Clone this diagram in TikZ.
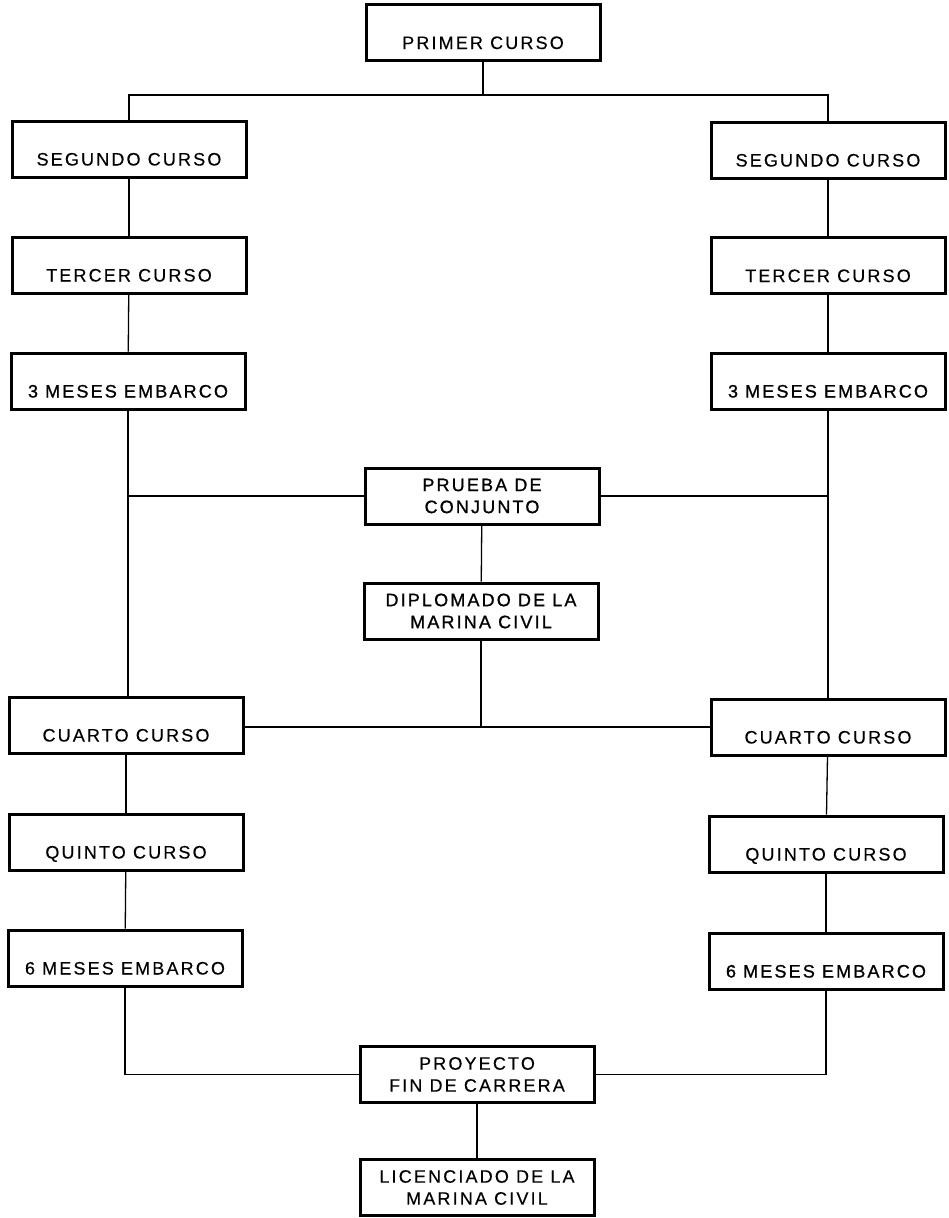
\documentclass[tikz,border=0pt]{standalone}
\usepackage{fontspec}
\setmainfont{Liberation Sans}[LetterSpace=12,FakeBold=0.3]
\newfontfamily\heavyfont{Liberation Sans}[LetterSpace=12,FakeBold=1]
\begin{document}
\begin{tikzpicture}[x=1pt,y=-1pt,
  box/.style={draw, line width=3pt, inner sep=0pt, fill=white,
    minimum width=234pt, minimum height=56pt,
    font=\fontsize{18}{22}\selectfont},
  heavy/.style={font=\fontsize{18}{22}\selectfont\heavyfont},
  oneline/.style={text height=44.5pt, text depth=11.5pt},
  twoline/.style={align=center},
  link/.style={line width=1.3pt}]
\useasboundingbox (0,0) rectangle (948,1218);

% central column
\node[box,oneline] (primer) at (483,32.5) {PRIMER CURSO};
\node[box,twoline,heavy] (prueba) at (482,496) {PRUEBA DE\\CONJUNTO};
\node[box,twoline,heavy] (diplo) at (481,611) {DIPLOMADO DE LA\\MARINA CIVIL};
\node[box,twoline] (proyecto) at (477,1074.5) {PROYECTO\\FIN DE CARRERA};
\node[box,twoline] (licen) at (477,1187.5) {LICENCIADO DE LA\\MARINA CIVIL};

% left column
\node[box,oneline] (segL) at (129,149) {SEGUNDO CURSO};
\node[box,oneline] (terL) at (129,265) {TERCER CURSO};
\node[box,oneline,heavy] (mesL) at (128,381) {3 MESES EMBARCO};
\node[box,oneline] (cuaL) at (126,725) {CUARTO CURSO};
\node[box,oneline] (quiL) at (126,842) {QUINTO CURSO};
\node[box,oneline] (seisL) at (125,958) {6 MESES EMBARCO};

% right column
\node[box,oneline] (segR) at (828,150) {SEGUNDO CURSO};
\node[box,oneline] (terR) at (828,265.5) {TERCER CURSO};
\node[box,oneline,heavy] (mesR) at (828,381) {3 MESES EMBARCO};
\node[box,oneline] (cuaR) at (828,727) {CUARTO CURSO};
\node[box,oneline] (quiR) at (826,844) {QUINTO CURSO};
\node[box,oneline,heavy] (seisR) at (826,961) {6 MESES EMBARCO};

\coordinate (split) at (483,95);

% connectors
\draw[link] (primer.south) -- (split);
\draw[link] (segL.north) -- (segL.north |- split) -- (segR.north |- split) -- (segR.north);
\draw[link] (segL) -- (terL);
\draw[link] (terL) -- (mesL);
\draw[link] (segR) -- (terR);
\draw[link] (terR) -- (mesR);
\draw[link] (mesL.south) -- (mesL.south |- cuaL.north);
\draw[link] (mesR.south) -- (mesR.south |- cuaR.north);
\draw[link] (prueba.west) -- (prueba.west -| mesL.south);
\draw[link] (prueba.east) -- (prueba.east -| mesR.south);
\draw[link] (prueba) -- (diplo);
\draw[link] (cuaL.east |- 0,727) coordinate (hL) -- (cuaR.west |- hL);
\draw[link] (diplo.south) -- (diplo.south |- hL);
\draw[link] (cuaL) -- (quiL);
\draw[link] (quiL) -- (seisL);
\draw[link] (cuaR) -- (quiR);
\draw[link] (quiR) -- (seisR);
\draw[link] (seisL.south) |- (proyecto.west);
\draw[link] (seisR.south) |- (proyecto.east);
\draw[link] (proyecto) -- (licen);
\end{tikzpicture}
\end{document}
